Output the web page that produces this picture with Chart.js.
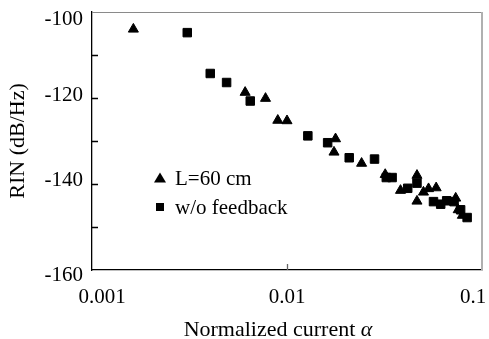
<!DOCTYPE html>
<html>
<head>
<meta charset="utf-8">
<script src="https://cdn.jsdelivr.net/npm/chart.js@4.4.1/dist/chart.umd.min.js"></script>
<style>
  html, body { margin: 0; padding: 0; background: #fff; }
</style>
</head>
<body>
<canvas id="graficoRIN" width="489" height="339"></canvas>
<script>
// L = 60 cm (triangulos)
const alphaL60 = [0.00163, 0.0061, 0.00776, 0.00897, 0.0100, 0.01774, 0.01742, 0.02413, 0.03189, 0.0382, 0.0464, 0.0464, 0.0501, 0.0532, 0.0582, 0.0733, 0.0755, 0.0793];
const rinL60 = [-104.0, -118.7, -120.1, -125.2, -125.3, -129.5, -132.6, -135.2, -137.8, -141.5, -138.0, -144.0, -141.9, -141.1, -140.9, -143.3, -146.0, -147.3];

// sin realimentacion (cuadrados)
const alphaNoFb = [0.00308, 0.00404, 0.0049, 0.00648, 0.01279, 0.01616, 0.02085, 0.02811, 0.0323, 0.0346, 0.0416, 0.0464, 0.0564, 0.0614, 0.0659, 0.0719, 0.0777, 0.0839];
const rinNoFb = [-104.8, -114.3, -116.4, -120.7, -128.8, -130.4, -133.9, -134.2, -138.5, -138.5, -141.0, -139.8, -144.1, -144.7, -143.9, -144.1, -146.0, -147.8];

const seriesNames = ["L=60 cm", "w/o feedback"];
const xTicks = [0.001, 0.01, 0.1];
const xTickLabels = ["0.001", "0.01", "0.1"];
const yTicks = [-160, -140, -120, -100];
const yTickMarks = [-150, -140, -130, -120, -110];
const xTickMarks = [0.01];

const serif = '"Liberation Serif", "Times New Roman", serif';

function toPoints(xs, ys) {
  const pts = [];
  for (let i = 0; i < xs.length; i++) {
    pts.push({ x: xs[i], y: ys[i] });
  }
  return pts;
}

// marco, marcas hacia adentro, etiquetas y leyenda
const dibujarExtras = {
  id: "dibujarExtras",
  afterDraw(chart) {
    const ctx = chart.ctx;
    const a = chart.chartArea;
    const x = chart.scales.x;
    const y = chart.scales.y;
    ctx.save();

    // borde superior y derecho en gris
    ctx.strokeStyle = "#8a8a8a";
    ctx.lineWidth = 1;
    ctx.beginPath();
    ctx.moveTo(a.left, a.top + 0.5);
    ctx.lineTo(a.right, a.top + 0.5);
    ctx.stroke();
    ctx.strokeStyle = "#b0b0b0";
    ctx.lineWidth = 2;
    ctx.beginPath();
    ctx.moveTo(a.right, a.top);
    ctx.lineTo(a.right, a.bottom);
    ctx.stroke();

    // marcas del eje y
    ctx.strokeStyle = "#000";
    ctx.lineWidth = 1.3;
    ctx.beginPath();
    yTickMarks.forEach((v) => {
      const py = Math.round(y.getPixelForValue(v)) + 0.5;
      ctx.moveTo(a.left, py);
      ctx.lineTo(a.left + 6, py);
    });
    ctx.stroke();

    // marca del eje x
    ctx.strokeStyle = "#666";
    ctx.lineWidth = 1.3;
    ctx.beginPath();
    xTickMarks.forEach((v) => {
      const px = Math.round(x.getPixelForValue(v)) + 0.5;
      ctx.moveTo(px, a.bottom);
      ctx.lineTo(px, a.bottom - 6);
    });
    ctx.stroke();

    // etiquetas de los ejes
    ctx.fillStyle = "#000";
    ctx.font = "21px " + serif;
    ctx.textBaseline = "middle";
    ctx.textAlign = "right";
    const yShift = [5, -4, -3, 7];
    yTicks.forEach((v, i) => {
      ctx.fillText(String(v), a.left - 9, y.getPixelForValue(v) + yShift[i]);
    });
    ctx.textAlign = "center";
    const xShift = [10, 0, -9];
    xTicks.forEach((v, i) => {
      ctx.fillText(xTickLabels[i], x.getPixelForValue(v) + xShift[i], a.bottom + 27);
    });

    // titulo del eje x con alfa en cursiva
    ctx.font = "22px " + serif;
    ctx.textBaseline = "alphabetic";
    ctx.textAlign = "left";
    const t1 = "Normalized current ";
    const w1 = ctx.measureText(t1).width;
    ctx.font = "italic 22px " + serif;
    const w2 = ctx.measureText("\u03b1").width;
    const x0 = 278 - (w1 + w2) / 2;
    ctx.font = "22px " + serif;
    ctx.fillText(t1, x0, 336);
    ctx.font = "italic 22px " + serif;
    ctx.fillText("\u03b1", x0 + w1, 336);

    // leyenda
    ctx.font = "21px " + serif;
    ctx.textBaseline = "middle";
    ctx.beginPath();
    ctx.moveTo(160, 172.5);
    ctx.lineTo(166, 182.5);
    ctx.lineTo(154, 182.5);
    ctx.closePath();
    ctx.fill();
    ctx.fillText(seriesNames[0], 175, 179);
    ctx.fillRect(156, 203, 8, 8);
    ctx.fillText(seriesNames[1], 175, 208);

    ctx.restore();
  },
};

const grafica = document.getElementById("graficoRIN");

new Chart(grafica, {
  type: "scatter",
  data: {
    datasets: [
      {
        label: seriesNames[0],
        data: toPoints(alphaL60, rinL60),
        pointStyle: "triangle",
        pointRadius: 5.8,
        borderWidth: 1,
        backgroundColor: "#000",
        borderColor: "#000",
      },
      {
        label: seriesNames[1],
        data: toPoints(alphaNoFb, rinNoFb),
        pointStyle: "rect",
        pointRadius: 6,
        borderWidth: 1,
        backgroundColor: "#000",
        borderColor: "#000",
      },
    ],
  },
  options: {
    responsive: false,
    animation: false,
    devicePixelRatio: 1,
    layout: { padding: { top: 12, right: 5, left: 0, bottom: 0 } },
    plugins: {
      legend: { display: false },
      tooltip: { enabled: false },
    },
    scales: {
      x: {
        type: "logarithmic",
        min: 0.001,
        max: 0.1,
        grid: { display: false },
        border: { display: true, color: "#000", width: 1.3 },
        ticks: { display: false },
        afterBuildTicks: (scale) => {
          scale.ticks = xTicks.map((v) => ({ value: v }));
        },
        afterFit: (scale) => {
          scale.height = 69;
          scale.paddingLeft = 0;
          scale.paddingRight = 0;
        },
      },
      y: {
        min: -160,
        max: -100,
        grid: { display: false },
        border: { display: true, color: "#000", width: 1.3 },
        ticks: { display: false, stepSize: 10 },
        title: {
          display: true,
          text: "RIN (dB/Hz)",
          color: "#000",
          font: { family: serif, size: 22 },
          padding: { top: 5, bottom: 0 },
        },
        afterFit: (scale) => {
          scale.width = 92;
          scale.paddingTop = 0;
          scale.paddingBottom = 0;
        },
      },
    },
  },
  plugins: [dibujarExtras],
});
</script>
</body>
</html>
